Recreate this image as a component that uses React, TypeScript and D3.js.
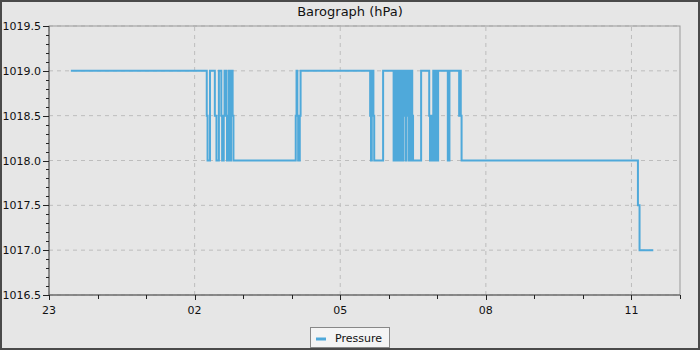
import React from "react";
import * as d3 from "d3";

// minutes after 23:00 (start of the window) at which the reading changes
const stepMinutes: number[] = [
  27, 195, 196, 199, 205, 207, 210, 213, 214, 216, 217, 219, 220, 222, 224, 225, 227, 228,
  305, 306, 307, 308, 310, 311,
  397, 398, 399, 401, 402, 413, 426,
  427, 428, 430, 431, 432, 433, 435, 436, 437, 438, 439, 440, 441, 442, 444, 445, 446, 447, 448, 449, 450,
  460, 470, 471, 473, 474, 475, 477, 478, 480, 481, 493, 495, 507, 508, 509, 510,
  728, 730, 747,
];
const pressureValues: number[] = [
  1019, 1018.5, 1018, 1019, 1018.5, 1018, 1019, 1018.5, 1018, 1018.5, 1019, 1018.5, 1018, 1019, 1018, 1019, 1018.5, 1018,
  1018.5, 1019, 1018.5, 1018, 1018.5, 1019,
  1018.5, 1018, 1019, 1018.5, 1018, 1019, 1018,
  1019, 1018, 1019, 1018.5, 1018, 1019, 1018, 1019, 1018, 1019, 1018.5, 1019, 1018, 1019, 1018.5, 1018, 1019, 1018, 1019, 1018.5, 1018,
  1019, 1018.5, 1018, 1018.5, 1018, 1019, 1018, 1019, 1018, 1019, 1018, 1019, 1018.5, 1019, 1018.5, 1018,
  1017.5, 1017, 1017,
];
const yTickValues: number[] = [1016.5, 1017.0, 1017.5, 1018.0, 1018.5, 1019.0, 1019.5];
const titleText = "Barograph (hPa)";
const seriesName = "Pressure";

const W = 700;
const H = 350;
const M = { left: 49, right: 20, top: 26, bottom: 55 };
const startDate = new Date(2024, 0, 1, 23, 0, 0);
const endDate = new Date(2024, 0, 2, 12, 0, 0);
const LINE_COLOR = "#4fa9da";
const FONT = "'DejaVu Sans', sans-serif";

export default function App() {
  const x = d3.scaleTime().domain([startDate, endDate]).range([M.left, W - M.right]);
  const y = d3.scaleLinear().domain([1016.5, 1019.5]).range([H - M.bottom, M.top]);

  const data = stepMinutes.map((m, i) => ({
    t: new Date(startDate.getTime() + m * 60000),
    v: pressureValues[i],
  }));
  const line = d3
    .line<{ t: Date; v: number }>()
    .x((d) => x(d.t))
    .y((d) => y(d.v))
    .curve(d3.curveStepAfter);

  const majorX = d3.timeHour.range(startDate, new Date(endDate.getTime() + 1), 3);
  const minorX = d3.timeHour.range(startDate, new Date(endDate.getTime() + 1), 1);
  const minorY = d3.range(0, 31).map((i) => 1016.5 + i * 0.1);
  const fmtH = d3.timeFormat("%H");

  const x0 = M.left;
  const x1 = W - M.right;
  const y0 = H - M.bottom;
  const y1 = M.top;

  return (
    <div style={{ position: "fixed", left: 0, top: 0 }}>
      <svg width={W} height={H} style={{ display: "block" }} fontFamily={FONT}>
        <rect x={0} y={0} width={W} height={H} fill="#e6e6e6" />
        <rect x={1} y={1} width={W - 2} height={H - 2} fill="none" stroke="#4a4a4a" strokeWidth={2} />
        <text x={W / 2} y={16} textAnchor="middle" fontSize={13} fill="#111">
          {titleText}
        </text>

        {/* grid */}
        {yTickValues.map((v) => (
          <line key={"gy" + v} x1={x0} x2={x1} y1={y(v)} y2={y(v)} stroke="#bdbdbd" strokeDasharray="4,4" />
        ))}
        {majorX.map((d) => (
          <line key={"gx" + d.getTime()} x1={x(d)} x2={x(d)} y1={y0} y2={y1} stroke="#bdbdbd" strokeDasharray="4,4" />
        ))}

        {/* frame */}
        <rect x={x0} y={y1} width={x1 - x0} height={y0 - y1} fill="none" stroke="#999" strokeWidth={1} />

        {/* y axis */}
        <line x1={x0} x2={x0} y1={y1} y2={y0} stroke="#555" />
        {minorY.map((v) => (
          <line key={"my" + v} x1={x0 - 3} x2={x0} y1={Math.round(y(v)) + 0.5} y2={Math.round(y(v)) + 0.5} stroke="#222" />
        ))}
        {yTickValues.map((v) => (
          <g key={"ty" + v}>
            <line x1={x0 - 6} x2={x0} y1={Math.round(y(v)) + 0.5} y2={Math.round(y(v)) + 0.5} stroke="#222" />
            <text x={x0 - 8} y={y(v) + 4} textAnchor="end" fontSize={11} fill="#111">
              {d3.format(".1f")(v)}
            </text>
          </g>
        ))}

        {/* x axis */}
        <line x1={x0} x2={x1} y1={y0} y2={y0} stroke="#555" />
        {minorX.map((d) => (
          <line key={"mx" + d.getTime()} x1={Math.round(x(d)) + 0.5} x2={Math.round(x(d)) + 0.5} y1={y0} y2={y0 + 4} stroke="#222" />
        ))}
        {majorX.map((d) => (
          <g key={"tx" + d.getTime()}>
            <line x1={Math.round(x(d)) + 0.5} x2={Math.round(x(d)) + 0.5} y1={y0} y2={y0 + 5} stroke="#222" />
            <text x={x(d)} y={y0 + 19} textAnchor="middle" fontSize={11} fill="#111">
              {fmtH(d)}
            </text>
          </g>
        ))}

        {/* series */}
        <path d={line(data) || ""} fill="none" stroke={LINE_COLOR} strokeWidth={2} />

        {/* legend */}
        <rect x={310.5} y={327.5} width={79} height={20} fill="#f4f4f4" stroke="#888" />
        <line x1={316} x2={326} y1={339} y2={339} stroke={LINE_COLOR} strokeWidth={3} />
        <text x={335} y={342} fontSize={11} fill="#111">
          {seriesName}
        </text>
      </svg>
    </div>
  );
}
